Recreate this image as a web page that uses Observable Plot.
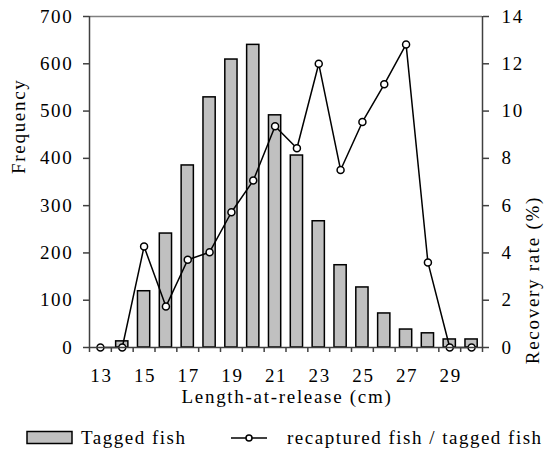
<!DOCTYPE html>
<html>
<head>
<meta charset="utf-8">
<script src="https://cdn.jsdelivr.net/npm/d3@7"></script>
<script src="https://cdn.jsdelivr.net/npm/@observablehq/plot@0.6"></script>
<style>
  body { margin: 0; background: white; }
  #chart svg text { font-family: "Liberation Serif", "Times New Roman", serif; letter-spacing: 1.7px; }
  #legend { position: relative; width: 547px; height: 36px; font-size: 19px; letter-spacing: 1.5px; color: black; font-family: "Liberation Serif", "Times New Roman", serif; }
  #legend .item { position: absolute; top: 0; height: 36px; display: flex; align-items: center; white-space: nowrap; }
</style>
</head>
<body>
<div id="chart"></div>
<div id="legend"></div>
<script>
const lengths = [13,14,15,16,17,18,19,20,21,22,23,24,25,26,27,28,29,30];
const tagged = [0,13,119,241,385,529,609,640,491,406,267,174,127,72,38,30,17,17];
const recoveryRate = [0,0,4.27,1.73,3.71,4.03,5.72,7.06,9.36,8.43,12.0,7.51,9.54,11.13,12.82,3.6,0,0];
const freqTicks = [0,100,200,300,400,500,600,700];
const rateTicks = [0,2,4,6,8,10,12,14];
const xLabelTicks = [13,15,17,19,21,23,25,27,29];

const FONT = "Liberation Serif, Times New Roman, serif";
const FS = 19;
const k = 700 / 14;
const data = lengths.map((l, i) => ({l, n: tagged[i], r: recoveryRate[i]}));
const bounds = d3.range(lengths[0] - 0.5, lengths[lengths.length - 1] + 1, 1);

const chart = Plot.plot({
  width: 547,
  height: 420,
  marginLeft: 89,
  marginRight: 65,
  marginTop: 16,
  marginBottom: 73,
  x: {type: "linear", domain: [lengths[0] - 0.5, lengths[lengths.length - 1] + 0.5]},
  y: {domain: [0, 700]},
  style: {fontFamily: FONT, fontSize: "19px", color: "black", background: "white"},
  marks: [
    Plot.ruleY([700], {stroke: "#808080", strokeWidth: 1.5}),
    Plot.rectY(data, {x1: d => d.l - 0.28, x2: d => d.l + 0.28, y1: 0, y2: "n", fill: "#c0c0c0", stroke: "black", strokeWidth: 1.5}),
    Plot.line(data, {x: "l", y: d => d.r * k, stroke: "black", strokeWidth: 1.5}),
    Plot.dot(data, {x: "l", y: d => d.r * k, r: 3.5, fill: "white", stroke: "black", strokeWidth: 1.5}),
    Plot.ruleX([lengths[0] - 0.5], {stroke: "#404040", strokeWidth: 1.5}),
    Plot.ruleX([lengths[lengths.length - 1] + 0.5], {stroke: "#404040", strokeWidth: 1.5}),
    Plot.ruleY([0], {stroke: "#404040", strokeWidth: 1.5}),
    Plot.axisY({anchor: "left", ticks: freqTicks, tickSize: 6, tickPadding: 10, label: null, stroke: "#404040", strokeWidth: 1.5, fontSize: FS, fontFamily: FONT}),
    Plot.axisY({anchor: "right", ticks: rateTicks.map(d => d * k), tickFormat: d => String(d / k), tickSize: 6, tickPadding: 13, label: null, stroke: "#404040", strokeWidth: 1.5, fontSize: FS, fontFamily: FONT}),
    Plot.axisX({ticks: bounds, tickFormat: () => "", tickSize: 5, label: null, stroke: "#404040", strokeWidth: 1.5}),
    Plot.axisX({ticks: xLabelTicks, tickSize: 0, tickPadding: 20.5, dx: 1, label: null, fontSize: FS, fontFamily: FONT}),
    Plot.text(["Length-at-release (cm)"], {frameAnchor: "bottom", dy: 49, dx: 1, lineAnchor: "middle", fontSize: FS, fontFamily: FONT}),
    Plot.text(["Frequency"], {frameAnchor: "left", dx: -71, dy: -8, rotate: -90, lineAnchor: "middle", fontSize: FS, fontFamily: FONT}),
    Plot.text(["Recovery rate (%)"], {frameAnchor: "right", dx: 50, dy: 14, rotate: -90, lineAnchor: "middle", fontSize: FS, fontFamily: FONT})
  ]
});
document.getElementById("chart").appendChild(chart);

const legend = document.getElementById("legend");
legend.innerHTML = `
  <div class="item" style="left:26px">
    <svg width="48" height="16" style="margin-right:7px"><rect x="1" y="1.5" width="45" height="12" fill="#c0c0c0" stroke="black" stroke-width="1.5"/></svg>
    <span>Tagged fish</span>
  </div>
  <div class="item" style="left:231px">
    <svg width="37" height="16" style="margin-right:19px"><line x1="0" y1="8" x2="36" y2="8" stroke="black" stroke-width="1.5"/><circle cx="18" cy="8" r="3" fill="white" stroke="black" stroke-width="1.5"/></svg>
    <span>recaptured fish / tagged fish</span>
  </div>`;
</script>
</body>
</html>
